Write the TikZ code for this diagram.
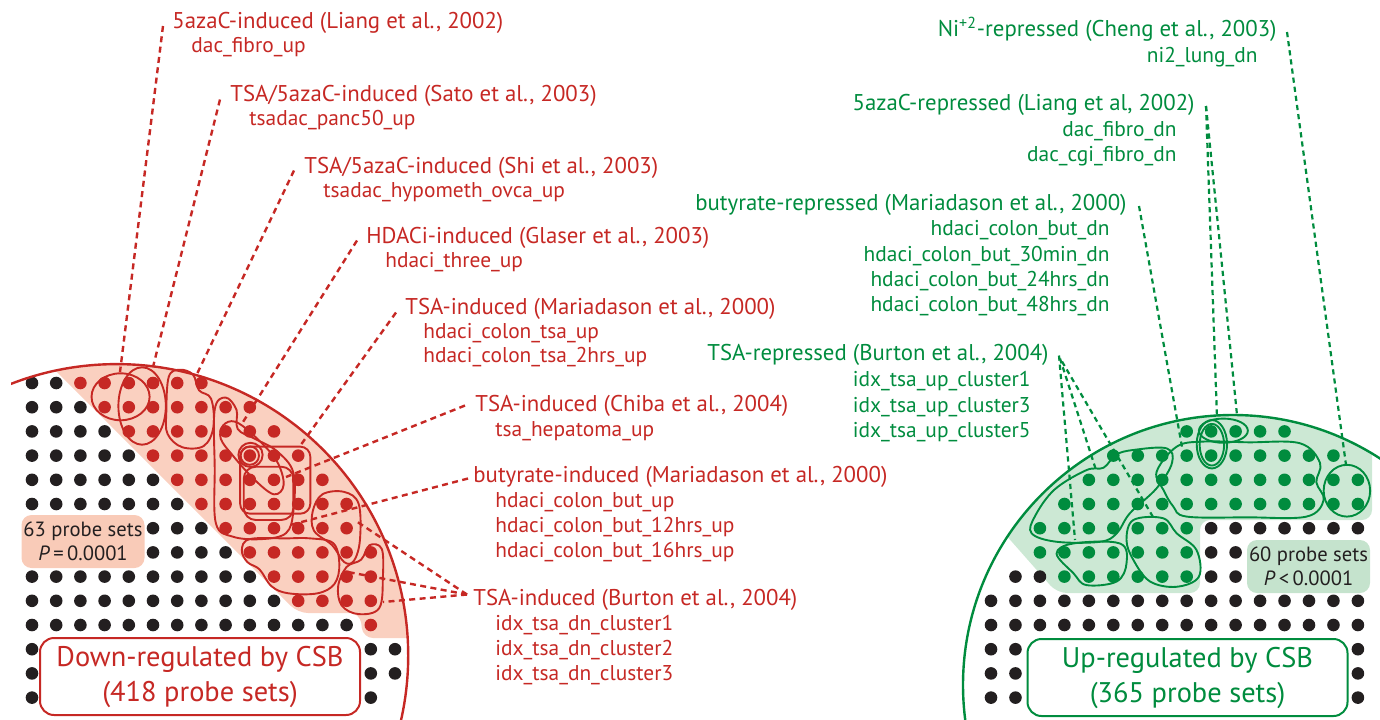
\documentclass[tikz,border=0pt]{standalone}
\usepackage{fontspec}
\setmainfont{PT Sans}
\definecolor{cred}{RGB}{198,40,36}
\definecolor{cgreen}{RGB}{0,140,62}
\definecolor{cdot}{RGB}{35,31,32}
\definecolor{redshade}{RGB}{250,208,192}
\definecolor{greenshade}{RGB}{204,232,212}
\definecolor{redbox}{RGB}{249,203,184}
\definecolor{greenbox}{RGB}{197,227,205}
\tikzset{
  redtitle/.style={text=cred, font=\fontsize{11.4}{13}\selectfont, inner sep=0pt, anchor=base west},
  redsub/.style={text=cred, font=\fontsize{10.7}{12}\selectfont, inner sep=0pt, anchor=base west},
  greentitle/.style={text=cgreen, font=\fontsize{11.4}{13}\selectfont, inner sep=0pt, anchor=base east},
  greensub/.style={text=cgreen, font=\fontsize{10.7}{12}\selectfont, inner sep=0pt, anchor=base east},
  redlead/.style={draw=cred, line width=1.2pt, dash pattern=on 3pt off 2.2pt},
  greenlead/.style={draw=cgreen, line width=1.1pt, dash pattern=on 2.6pt off 2pt},
  redblob/.style={draw=cred, line width=0.95pt},
  greenblob/.style={draw=cgreen, line width=0.95pt},
  bdot/.style={fill=cdot},
  rdot/.style={fill=cred},
  gdot/.style={fill=cgreen},
  probebox/.style={rounded corners=5pt, minimum width=61.5pt, minimum height=26.5pt, inner sep=0pt, align=center, text=cdot, font=\fontsize{10.3}{12}\selectfont},
  bigbox/.style={rounded corners=7pt, fill=white, line width=1pt, minimum width=160pt, minimum height=38.5pt, inner sep=0pt, align=center, font=\fontsize{14.2}{17.5}\selectfont},
}
\begin{document}
\begin{tikzpicture}[x=0.5pt,y=-0.5pt]
\useasboundingbox (0,0) rectangle (1380,719);
% ---------- shading ----------
\begin{scope}
  \clip (0,0) rectangle (1380,719);
  \clip (116.7,655.6) circle [radius=145.75pt];
  \fill[redshade, rounded corners=5pt] (30,345) -- (298,613) -- (360,613) -- (363,638) -- (440,638) -- (440,330) -- cycle;
\end{scope}
\begin{scope}
  \clip (0,0) rectangle (1380,719);
  \clip (1233,685) circle [radius=135pt];
  \fill[greenshade, rounded corners=5pt] (975,500) -- (1057,593) -- (1200,593) -- (1200,520) -- (1372,520) -- (1372,380) -- (975,380) -- cycle;
\end{scope}
% ---------- left grid ----------
\begin{scope}[shift={(16pt,-191.5pt)}, x=12.1pt, y=-12.1pt]
  \foreach \r/\a/\b in {0/0/1,1/0/2,2/0/3,3/0/4,4/0/5,5/0/6,6/5/7,7/5/8,8/0/9,9/0/10,10/0/13,11/0/0,11/14/15,12/0/0,12/14/15,13/0/0,13/14/14}
    {\foreach \c in {\a,...,\b} \fill[bdot] (\c,\r) circle [radius=3.15pt];}
  \foreach \r/\a/\b in {0/2/7,1/3/9,2/4/10,3/5/11,4/6/12,5/7/13,6/8/13,7/9/14,8/10/14,9/11/14,10/14/14}
    {\foreach \c in {\a,...,\b} \fill[rdot] (\c,\r) circle [radius=3.15pt];}
  % blobs
  \draw[redblob] (3.66,0.57) ellipse [x radius=1.2, y radius=0.97];
  \draw[redblob] (4.55,0.95) ellipse [x radius=0.98, y radius=1.6];
  \draw[redblob] plot[smooth cycle, tension=0.6] coordinates {(5.55,1.2) (5.65,-0.25) (6.1,-0.55) (6.65,-0.35) (6.9,0.3) (7.4,0.65) (7.5,1.8) (7.1,2.6) (6.2,2.65) (5.6,2.1)};
  \draw[redblob] plot[smooth cycle, tension=0.6] coordinates {(7.55,1.1) (8.0,0.6) (8.45,1.1) (8.5,1.9) (9.2,2.3) (10.1,2.8) (10.8,3.7) (10.8,5.3) (10.5,6.2) (9.5,6.45) (8.3,6.35) (7.6,5.8) (7.55,3.5)};
  \draw[redblob] plot[smooth cycle, tension=0.6] coordinates {(7.9,1.75) (8.4,1.6) (9.2,2.2) (10.1,3.2) (10.4,4.2) (10.0,4.6) (9.2,4.0) (8.3,3.0) (7.8,2.3)};
  \draw[redblob] (9,3) circle [radius=0.38];
  \draw[redblob] (9.03,2.97) circle [radius=0.5];
  \draw[redblob, rounded corners=5pt] (8.6,2.63) rectangle (11.5,5.4);
  \draw[redblob, rounded corners=6pt] (8.75,3.46) rectangle (10.8,5.66);
  \draw[redblob] plot[smooth cycle, tension=0.6] coordinates {(11.6,5.3) (12.0,4.6) (12.9,4.5) (13.5,5.0) (13.55,6.5) (13.3,7.35) (12.9,7.4) (12.4,6.7) (11.65,6.1)};
  \draw[redblob] plot[smooth cycle, tension=0.6] coordinates {(8.67,6.9) (9.0,6.45) (10.5,6.42) (11.5,6.42) (12.45,6.62) (12.7,7.5) (12.5,8.3) (11.8,8.69) (10.6,8.69) (9.9,8.4) (9.4,7.7) (8.9,7.4)};
  \draw[redblob] plot[smooth cycle, tension=0.6] coordinates {(12.65,8.4) (13.0,7.6) (13.6,7.3) (13.95,6.7) (14.45,6.85) (14.5,8.0) (14.35,9.3) (13.5,9.55) (12.8,9.2)};
\end{scope}
% ---------- right grid ----------
\begin{scope}[shift={(495.5pt,-191.5pt)}, x=12.23pt, y=-12.1pt]
  \foreach \r/\a/\b in {6/9/15,7/9/10,8/1/2,8/9/10,9/0/15,10/0/15,11/0/1,11/15/15,12/0/1,12/15/15,13/0/1,13/15/15}
    {\foreach \c in {\a,...,\b} \fill[bdot] (\c,\r) circle [radius=3.15pt];}
  \foreach \r/\a/\b in {2/8/12,3/5/14,4/4/15,5/3/15,6/2/8,7/2/8,8/3/8}
    {\foreach \c in {\a,...,\b} \fill[gdot] (\c,\r) circle [radius=3.15pt];}
  \draw[greenblob] (9.03,2.53) ellipse [x radius=0.62, y radius=1.0];
  \draw[greenblob] (9.03,2.55) ellipse [x radius=0.5, y radius=0.86];
  \draw[greenblob] (9.5,1.97) ellipse [x radius=1.0, y radius=0.5];
  \draw[greenblob] plot[smooth cycle, tension=0.6] coordinates {(6.77,3.67) (7.59,2.63) (8.68,2.42) (10.5,2.45) (12.63,2.49) (13.45,3.3) (13.3,4.1) (13.6,4.83) (12.9,5.52) (10.5,5.55) (8.0,5.52) (7.45,5.1) (7.05,4.42)};
  \draw[greenblob] (14.55,4.45) ellipse [x radius=0.95, y radius=1.07];
  \draw[greenblob] plot[smooth cycle, tension=0.6] coordinates {(1.66,6.21) (1.8,5.5) (2.6,4.4) (3.9,3.6) (4.6,3.5) (5.1,2.97) (5.8,2.77) (7.18,2.7) (7.4,3.3) (6.77,4.35) (5.68,5.38) (5.14,6.21) (4.46,6.56) (2.68,6.56)};
  \draw[greenblob] plot[smooth cycle, tension=0.6] coordinates {(2.68,7.05) (3.37,6.63) (5.27,6.63) (5.54,7.45) (5.14,8.2) (3.9,8.35) (3.37,7.86)};
  \draw[greenblob] plot[smooth cycle, tension=0.6] coordinates {(5.82,5.66) (7.04,5.59) (7.59,6.21) (8.4,6.9) (8.5,8.0) (7.59,8.42) (6.5,8.2) (5.82,7.31) (5.54,6.49)};
\end{scope}
% ---------- arcs ----------
\begin{scope}
  \clip (11,0) rectangle (1380,719);
  \draw[cred, line width=1.2pt] (116.7,655.6) circle [radius=145.75pt];
\end{scope}
\begin{scope}
  \clip (0,0) rectangle (1380,719);
  \draw[cgreen, line width=1.2pt] (1233,685) circle [radius=135pt];
\end{scope}
% ---------- boxes ----------
\node[probebox, fill=redbox] (pbl) at (83,541.5) {63 probe sets\\\textit{P}\,=\,0.0001};
\node[probebox, fill=greenbox] (pbr) at (1308.5,566.5) {60 probe sets\\\textit{P}\,<\,0.0001};
\node[bigbox, draw=cred, text=cred] (downbox) at (200,676.5) {Down-regulated by CSB\\(418 probe sets)};
\node[bigbox, draw=cgreen, text=cgreen] (upbox) at (1187.5,677.5) {Up-regulated by CSB\\(365 probe sets)};
% ---------- red labels ----------
\node[redtitle] (t1) at (172,28.5) {5azaC-induced (Liang et al., 2002)};
\node[redsub] (u1) at (191,52.5) {dac\_fibro\_up};
\node[redtitle] (t2) at (230,101.5) {TSA/5azaC-induced (Sato et al., 2003)};
\node[redsub] (u2) at (249,125.5) {tsadac\_panc50\_up};
\node[redtitle] (t3) at (304,173.5) {TSA/5azaC-induced (Shi et al., 2003)};
\node[redsub] (u3) at (323,197.5) {tsadac\_hypometh\_ovca\_up};
\node[redtitle] (t4) at (366,243.5) {HDACi-induced (Glaser et al., 2003)};
\node[redsub] (u4) at (385,267.5) {hdaci\_three\_up};
\node[redtitle] (t5) at (405,314.5) {TSA-induced (Mariadason et al., 2000)};
\node[redsub] (u5a) at (423,338.5) {hdaci\_colon\_tsa\_up};
\node[redsub] (u5b) at (423,362.5) {hdaci\_colon\_tsa\_2hrs\_up};
\node[redtitle] (t6) at (475,411.5) {TSA-induced (Chiba et al., 2004)};
\node[redsub] (u6) at (495,436.5) {tsa\_hepatoma\_up};
\node[redtitle] (t7) at (473,482.5) {butyrate-induced (Mariadason et al., 2000)};
\node[redsub] (u7a) at (495,507.5) {hdaci\_colon\_but\_up};
\node[redsub] (u7b) at (495,532.5) {hdaci\_colon\_but\_12hrs\_up};
\node[redsub] (u7c) at (495,557.5) {hdaci\_colon\_but\_16hrs\_up};
\node[redtitle] (t8) at (473,605.5) {TSA-induced (Burton et al., 2004)};
\node[redsub] (u8a) at (495,630.5) {idx\_tsa\_dn\_cluster1};
\node[redsub] (u8b) at (495,655.5) {idx\_tsa\_dn\_cluster2};
\node[redsub] (u8c) at (495,680.5) {idx\_tsa\_dn\_cluster3};
% ---------- green labels ----------
\node[greentitle] (g1) at (1277,36.5) {Ni\textsuperscript{+2}-repressed (Cheng et al., 2003)};
\node[greensub] (h1) at (1258,62.5) {ni2\_lung\_dn};
\node[greentitle] (g2) at (1195,110.5) {5azaC-repressed (Liang et al, 2002)};
\node[greensub] (h2a) at (1177,136.5) {dac\_fibro\_dn};
\node[greensub] (h2b) at (1177,161.5) {dac\_cgi\_fibro\_dn};
\node[greentitle] (g3) at (1127,210.5) {butyrate-repressed (Mariadason et al., 2000)};
\node[greensub] (h3a) at (1110,235.5) {hdaci\_colon\_but\_dn};
\node[greensub] (h3b) at (1110,261.5) {hdaci\_colon\_but\_30min\_dn};
\node[greensub] (h3c) at (1110,286.5) {hdaci\_colon\_but\_24hrs\_dn};
\node[greensub] (h3d) at (1110,311.5) {hdaci\_colon\_but\_48hrs\_dn};
\node[greentitle] (g4) at (1049,360.5) {TSA-repressed (Burton et al., 2004)};
\node[greensub] (h4a) at (1031,386.5) {idx\_tsa\_up\_cluster1};
\node[greensub] (h4b) at (1031,412.5) {idx\_tsa\_up\_cluster3};
\node[greensub] (h4c) at (1031,437.5) {idx\_tsa\_up\_cluster5};
% ---------- leader end points ----------
\coordinate (e1) at (120,372);
\coordinate (e2) at (153,367);
\coordinate (e3) at (197,374);
\coordinate (e4) at (243,422);
\coordinate (e5) at (300,446);
\coordinate (e6) at (286,477);
\coordinate (e7) at (290,525);
\coordinate (e8a) at (356,521);
\coordinate (e8b) at (348,572);
\coordinate (e8c) at (383,602);
\coordinate (f1) at (1346,465);
\coordinate (f2a) at (1217,418);
\coordinate (f2b) at (1237,415);
\coordinate (f3) at (1182,447);
\coordinate (f4a) at (1075,540);
\coordinate (f4b) at (1096,470);
\coordinate (f4c) at (1153,517);
% ---------- leader lines ----------
\draw[redlead] ([shift={(-9,-2.5)}]t1.base west) -- (e1);
\draw[redlead] ([shift={(-10,-2)}]t2.base west) -- (e2);
\draw[redlead] ([shift={(-10,-3)}]t3.base west) -- (e3);
\draw[redlead] ([shift={(-9,-3)}]t4.base west) -- (e4);
\draw[redlead] ([shift={(-9,-2)}]t5.base west) -- (e5);
\draw[redlead] ([shift={(-10,-6)}]t6.base west) -- (e6);
\draw[redlead] ([shift={(-5,-4)}]t7.base west) -- (e7);
\draw[redlead] ([shift={(-6,-11)}]t8.base west) -- (e8a);
\draw[redlead] ([shift={(-6,-11)}]t8.base west) -- (e8b);
\draw[redlead] ([shift={(-6,-11)}]t8.base west) -- (e8c);
\draw[greenlead] ([shift={(10,-4.5)}]g1.base east) -- (f1);
\draw[greenlead] ([shift={(11,-4.5)}]g2.base east) -- (f2a);
\draw[greenlead] ([shift={(11,-4.5)}]g2.base east) -- (f2b);
\draw[greenlead] ([shift={(12,-4.5)}]g3.base east) -- (f3);
\draw[greenlead] ([shift={(10,-5)}]g4.base east) -- (f4a);
\draw[greenlead] ([shift={(11,-2)}]g4.base east) -- (f4b);
\draw[greenlead] ([shift={(13,1)}]g4.base east) -- (f4c);
\end{tikzpicture}
\end{document}
